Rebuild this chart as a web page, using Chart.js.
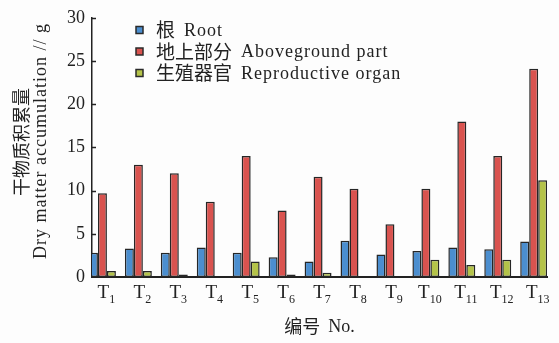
<!DOCTYPE html>
<html>
<head>
<meta charset="utf-8">
<script src="https://cdn.jsdelivr.net/npm/chart.js@4/dist/chart.umd.min.js"></script>
<style>
  html, body { margin: 0; padding: 0; background: #fdfdfd; }
  #wrap { width: 559px; height: 343px; }
</style>
</head>
<body>
<div id="wrap"><canvas id="chart" width="559" height="343"></canvas></div>
<script>
// Treatments
const categories = ['T1', 'T2', 'T3', 'T4', 'T5', 'T6', 'T7', 'T8', 'T9', 'T10', 'T11', 'T12', 'T13'];

// Dry matter accumulation (g) per organ
const rootMass         = [2.8, 3.3, 2.8, 3.4, 2.8, 2.3, 1.8, 4.2, 2.6, 3.0, 3.4, 3.2, 4.1];
const abovegroundMass  = [9.7, 13.0, 12.0, 8.7, 14.0, 7.7, 11.6, 10.2, 6.1, 10.2, 18.0, 14.0, 24.1];
const reproductiveMass = [0.7, 0.7, 0.3, 0, 1.8, 0.3, 0.5, 0, 0, 2.0, 1.4, 2.0, 11.2];

// Legend names: Chinese part, English part
const seriesNamesZh = ['根', '地上部分', '生殖器官'];
const seriesNamesEn = ['Root', 'Aboveground part', 'Reproductive organ'];

const yTicks = [0, 5, 10, 15, 20, 25, 30];

const yTitleZh = '干物质积累量';
const yTitleEn = 'Dry matter accumulation // g';
const xTitleZh = '编号';
const xTitleEn = 'No.';

const colors = ['#4b8ecf', '#d9534f', '#b4c349'];
const INK = '#222222';
const CJK = '"Noto Sans CJK SC", "Noto Sans CJK JP", sans-serif';
const SERIF = '"Liberation Serif", "DejaVu Serif", serif';

const seriesValues = [rootMass, abovegroundMass, reproductiveMass];
const datasets = seriesValues.map((vals, s) => ({
  label: seriesNamesZh[s] + ' ' + seriesNamesEn[s],
  data: vals.map((v, i) => ({ x: i + 1, y: v })),
  backgroundColor: colors[s],
  borderColor: '#262626',
  borderWidth: 1.5,
  borderSkipped: false,
  categoryPercentage: 0.75,
  barPercentage: 1,
  clip: 0
}));

const decorations = {
  id: 'decorations',
  beforeDraw(chart) {
    const ctx = chart.ctx;
    ctx.save();
    ctx.fillStyle = '#fdfdfd';
    ctx.fillRect(0, 0, chart.width, chart.height);
    ctx.restore();
  },
  afterDraw(chart) {
    const ctx = chart.ctx;
    const area = chart.chartArea;
    const xs = chart.scales.x;
    const ys = chart.scales.y;
    ctx.save();
    ctx.fillStyle = INK;
    ctx.strokeStyle = INK;

    // inward tick marks on the value axis
    ctx.lineWidth = 1.5;
    yTicks.forEach(t => {
      if (t === 0) return;
      const y = Math.round(ys.getPixelForValue(t)) + 0.5;
      ctx.beginPath();
      ctx.moveTo(area.left, y);
      ctx.lineTo(area.left + 4, y);
      ctx.stroke();
    });

    // treatment labels with subscript numbers
    ctx.textAlign = 'left';
    ctx.textBaseline = 'alphabetic';
    categories.forEach((c, i) => {
      const m = c.match(/^([A-Za-z]+)(\d+)$/);
      const main = m ? m[1] : c;
      const sub = m ? m[2] : '';
      ctx.font = '19px ' + SERIF;
      const wMain = ctx.measureText(main).width;
      ctx.font = '12px ' + SERIF;
      const wSub = ctx.measureText(sub).width;
      const cx = xs.getPixelForValue(i + 1) + 4;
      const x0 = cx - (wMain + wSub) / 2;
      ctx.font = '19px ' + SERIF;
      ctx.fillText(main, x0, 298);
      ctx.font = '12px ' + SERIF;
      ctx.fillText(sub, x0 + wMain, 303);
    });

    // x-axis title
    ctx.textBaseline = 'middle';
    ctx.font = '18px ' + CJK;
    const wZh = ctx.measureText(xTitleZh).width;
    ctx.font = '18px ' + SERIF;
    const wEn = ctx.measureText(xTitleEn).width;
    const gap = 8;
    const xc = (area.left + area.right) / 2;
    let x0 = xc - (wZh + gap + wEn) / 2;
    ctx.font = '18px ' + CJK;
    ctx.fillText(xTitleZh, x0, 326);
    ctx.font = '18px ' + SERIF;
    ctx.fillText(xTitleEn, x0 + wZh + gap, 327);

    // y-axis title, two rotated lines
    ctx.textAlign = 'center';
    ctx.save();
    ctx.translate(21, 142);
    ctx.rotate(-Math.PI / 2);
    ctx.font = '18px ' + CJK;
    ctx.fillText(yTitleZh, 0, 0);
    ctx.restore();
    ctx.save();
    ctx.translate(41, 141);
    ctx.rotate(-Math.PI / 2);
    ctx.font = '18px ' + SERIF;
    ctx.letterSpacing = '1px';
    ctx.fillText(yTitleEn, 0, 0);
    ctx.restore();

    // legend
    ctx.textAlign = 'left';
    ctx.textBaseline = 'middle';
    const rowY = [30, 51.5, 73];
    chart.data.datasets.forEach((ds, s) => {
      const y = rowY[s];
      ctx.fillStyle = ds.backgroundColor;
      ctx.fillRect(136, y - 3.5, 7, 7);
      ctx.lineWidth = 1.5;
      ctx.strokeStyle = '#2a2a2a';
      ctx.strokeRect(136, y - 3.5, 7, 7);
      ctx.fillStyle = INK;
      ctx.font = '19px ' + CJK;
      ctx.letterSpacing = '0px';
      ctx.fillText(seriesNamesZh[s], 156, y);
      const w = ctx.measureText(seriesNamesZh[s]).width;
      ctx.font = '18px ' + SERIF;
      ctx.letterSpacing = '1px';
      ctx.fillText(seriesNamesEn[s], 156 + w + 9, y + 1);
      ctx.letterSpacing = '0px';
    });
    ctx.restore();
  }
};

new Chart(document.getElementById('chart'), {
  type: 'bar',
  data: { datasets },
  options: {
    responsive: false,
    animation: false,
    devicePixelRatio: 1,
    layout: { padding: { top: 14, right: 12, left: 0, bottom: 0 } },
    plugins: { legend: { display: false }, tooltip: { enabled: false } },
    scales: {
      x: {
        type: 'linear',
        min: 0.71,
        max: 13.37,
        offset: false,
        z: 1,
        afterBuildTicks(scale) { scale.ticks = categories.map((c, i) => ({ value: i + 1 })); },
        grid: { display: false, drawTicks: false, offset: false },
        border: { display: true, color: INK, width: 2 },
        ticks: { display: false },
        afterFit(scale) { scale.height = 66; }
      },
      y: {
        min: 0,
        max: 30,
        z: 1,
        afterBuildTicks(scale) { scale.ticks = yTicks.map(v => ({ value: v })); },
        ticks: { padding: 7, color: INK, font: { family: SERIF, size: 18 } },
        grid: { display: false, drawTicks: false },
        border: { display: true, color: INK, width: 1.5 },
        afterFit(scale) { scale.width = 92; }
      }
    }
  },
  plugins: [decorations]
});
</script>
</body>
</html>
